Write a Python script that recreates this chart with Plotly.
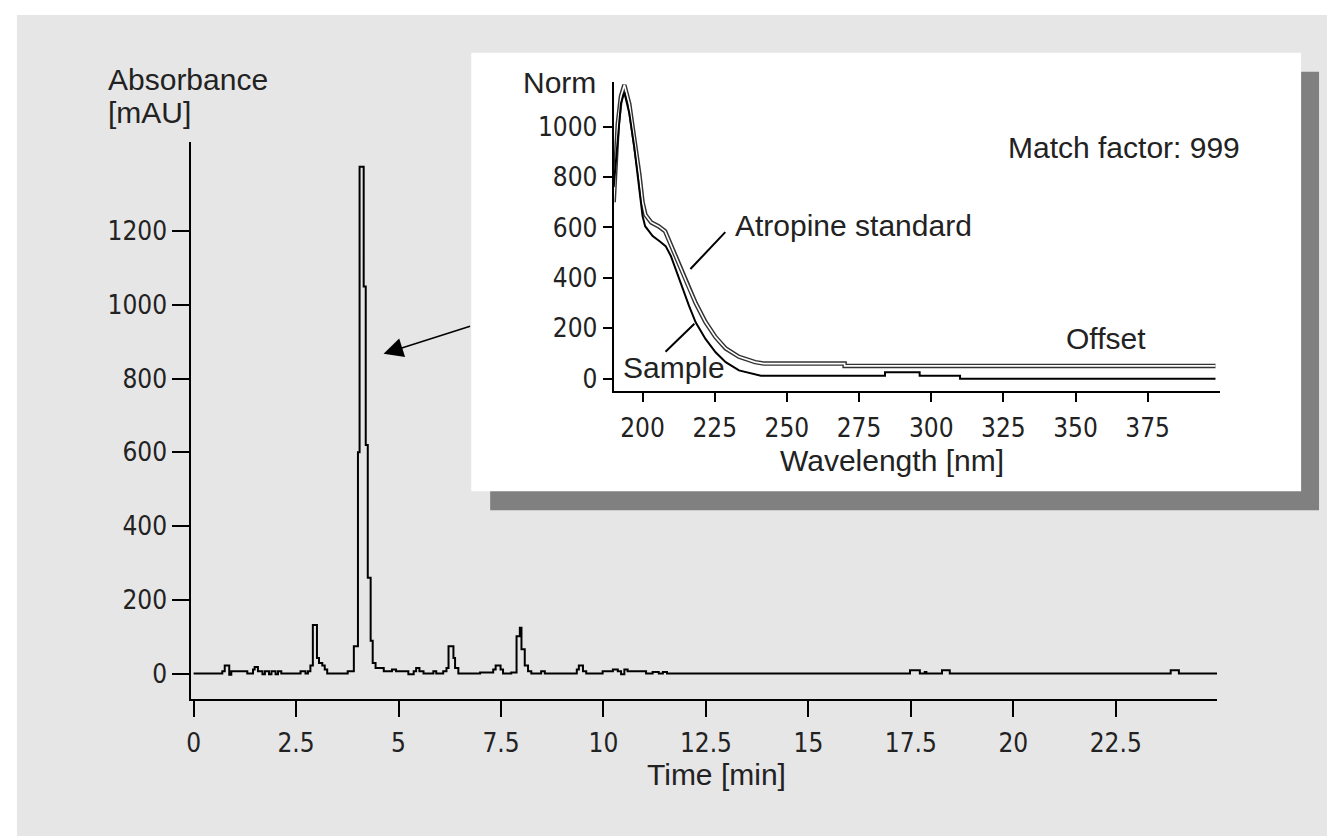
import plotly.graph_objects as go

W, H = 1327, 839

# ---------------- data ----------------
# Chromatogram (Time [min], Absorbance [mAU]) - step trace
time_min = [0.0, 0.70, 0.76, 0.87, 0.92, 1.31, 1.45, 1.49, 1.57, 1.68,
            1.74, 1.84, 1.90, 2.00, 2.06, 2.14, 2.61, 2.73, 2.79, 2.85,
            2.91, 3.01, 3.06, 3.14, 3.20, 3.26, 3.76, 3.91, 4.01, 4.05,
            4.15, 4.20, 4.25, 4.32, 4.37, 4.44, 4.64, 4.84, 4.94, 5.24,
            5.37, 5.43, 5.51, 5.61, 5.85, 5.92, 6.09, 6.17, 6.22, 6.34,
            6.38, 6.46, 6.99, 7.31, 7.37, 7.49, 7.55, 7.75, 7.88, 7.96,
            8.00, 8.08, 8.16, 8.24, 8.48, 8.57, 9.35, 9.40, 9.50, 9.58,
            9.98, 10.23, 10.35, 10.43, 10.51, 10.59, 11.04, 11.20, 11.35, 11.45,
            11.55, 17.48, 17.72, 17.84, 17.88, 18.26, 18.45, 23.84, 24.04, 24.97]
absorbance = [0, 6, 22, -3, 6, 0, 11, 18, 6, -2,
              6, -2, 6, -2, 6, 0, 6, 0, 6, 22,
              132, 42, 29, 22, 11, 0, 6, 74, 600, 1375,
              1050, 620, 260, 89, 29, 15, 6, 11, 6, -2,
              6, 15, 6, 0, 6, 0, 6, 15, 74, 42,
              15, 0, 3, 11, 22, 11, 0, 3, 101, 124,
              66, 22, 6, 0, 6, 0, 11, 22, 6, 0,
              6, 11, 6, -2, 11, 6, 0, 4, 0, 4,
              0, 9, 0, 4, 0, 9, 0, 9, 0, 0]

# UV spectra (Wavelength [nm], Norm)
wavelength_sample = [190, 191.4, 192.5, 193.7, 195.4, 197.1, 198.9, 200, 200.9, 203.5,
                     205.8, 208, 209.8, 211.5, 213.8, 216.1, 218.4, 221.8, 225.3, 228.8,
                     233.4, 239.1, 241, 284, 284, 296, 296, 310, 310, 398.5]
norm_sample = [760, 947, 1092, 1135, 1053, 921, 763, 645, 605, 566,
               546, 526, 487, 434, 355, 289, 224, 158, 105, 66,
               33, 16, 12, 12, 26, 26, 12, 12, 0, 0]

wavelength_standard = [190, 191.4, 192.5, 193.7, 195.4, 197.1, 198.9, 200, 201, 203,
                       205.5, 207.8, 209.8, 211.5, 213.8, 216.1, 218.4, 221.8, 225.3,
                       228.8, 233.4, 239, 242, 270, 270, 398.5]
norm_standard = [700, 1010, 1120, 1165, 1090, 960, 810, 700, 650, 620,
                 605, 585, 530, 480, 420, 360, 300, 225, 165,
                 120, 87, 66, 60, 60, 51, 51]

main_xticks = [0, 2.5, 5, 7.5, 10, 12.5, 15, 17.5, 20, 22.5]
main_xticklabels = ["0", "2.5", "5", "7.5", "10", "12.5", "15", "17.5", "20", "22.5"]
main_yticks = [0, 200, 400, 600, 800, 1000, 1200]
inset_xticks = [200, 225, 250, 275, 300, 325, 350, 375]
inset_yticks = [0, 200, 400, 600, 800, 1000]

# ---------------- helpers ----------------
def X(px):
    return px / W

def Y(py):
    return 1 - py / H

TICK_FONT = dict(family="DejaVu Sans Condensed, Liberation Sans Narrow, sans-serif",
                 size=26, color="#222222")
TEXT_FONT = dict(family="Liberation Sans, Arial, sans-serif", size=30, color="#222222")

fig = go.Figure()

fig.add_trace(go.Scatter(x=time_min, y=absorbance, mode="lines",
                         line=dict(color="black", width=2, shape="hv"),
                         xaxis="x", yaxis="y", showlegend=False, hoverinfo="skip"))

fig.add_trace(go.Scatter(x=wavelength_standard, y=norm_standard, mode="lines",
                         line=dict(color="#333333", width=4.5),
                         xaxis="x2", yaxis="y2", showlegend=False, hoverinfo="skip"))
fig.add_trace(go.Scatter(x=wavelength_standard, y=norm_standard, mode="lines",
                         line=dict(color="white", width=1.6),
                         xaxis="x2", yaxis="y2", showlegend=False, hoverinfo="skip"))
fig.add_trace(go.Scatter(x=wavelength_sample, y=norm_sample, mode="lines",
                         line=dict(color="black", width=2),
                         xaxis="x2", yaxis="y2", showlegend=False, hoverinfo="skip"))

axis_common = dict(showline=True, linecolor="black", linewidth=2, ticks="outside",
                   tickcolor="black", tickwidth=2, showgrid=False, zeroline=False,
                   tickfont=TICK_FONT, fixedrange=True)

fig.update_layout(
    width=W, height=H, autosize=False,
    margin=dict(l=0, r=0, t=0, b=0),
    paper_bgcolor="white", plot_bgcolor="rgba(0,0,0,0)",
    showlegend=False,
    xaxis=dict(domain=[X(187), X(1217)], range=[-0.056, 24.98], anchor="y",
               tickvals=main_xticks, ticktext=main_xticklabels, ticklen=16,
               ticklabelstandoff=3, **axis_common),
    yaxis=dict(domain=[Y(702), Y(143)], range=[-70.3, 1440.5], anchor="x",
               tickvals=main_yticks, ticklen=17, **axis_common),
    xaxis2=dict(domain=[X(611), X(1220)], range=[190, 400.2], anchor="y2",
                tickvals=inset_xticks, ticklen=9, ticklabelstandoff=4, **axis_common),
    yaxis2=dict(domain=[Y(392), Y(82)], range=[-47, 1178], anchor="x2",
                tickvals=inset_yticks, ticklen=9, **axis_common),
)

shapes = [
    dict(type="rect", xref="paper", yref="paper", x0=X(12), x1=X(1327), y0=Y(839), y1=Y(15),
         fillcolor="#e6e6e6", line=dict(width=0), layer="below"),
    dict(type="rect", xref="paper", yref="paper", x0=X(487), x1=X(1319), y0=Y(512), y1=Y(72),
         fillcolor="#808080", line=dict(width=0), layer="below"),
    dict(type="rect", xref="paper", yref="paper", x0=X(468), x1=X(1301), y0=Y(493), y1=Y(53),
         fillcolor="white", line=dict(width=0), layer="below"),
    dict(type="line", xref="paper", yref="paper", x0=X(723), y0=Y(233), x1=X(688), y1=Y(270),
         line=dict(color="black", width=2)),
    dict(type="line", xref="paper", yref="paper", x0=X(692), y0=Y(325), x1=X(663), y1=Y(353),
         line=dict(color="black", width=2)),
]
fig.update_layout(shapes=shapes)

def label(text, px, py, xanchor="left", font=TEXT_FONT):
    return dict(text=text, xref="paper", yref="paper", x=X(px), y=Y(py),
                xanchor=xanchor, yanchor="middle", showarrow=False, font=font)

annotations = [
    label("Absorbance", 101, 80),
    label("[mAU]", 101, 113),
    label("Time [min]", 714, 777, xanchor="center"),
    label("Norm", 557, 83, xanchor="center"),
    label("Match factor: 999", 1123, 148, xanchor="center"),
    label("Atropine standard", 731, 226),
    label("Sample", 618, 369),
    label("Offset", 1063, 340),
    label("Wavelength [nm]", 890, 462, xanchor="center"),
    dict(text="", xref="paper", yref="paper", x=X(380), y=Y(355),
         ax=88, ay=-28, axref="pixel", ayref="pixel", showarrow=True,
         arrowhead=2, arrowsize=2.6, arrowwidth=1.5, arrowcolor="black"),
]
fig.update_layout(annotations=annotations)

fig.write_html("out.html", config={"displayModeBar": False},
               post_script="document.body.style.margin='0px';document.body.style.overflow='hidden';")
